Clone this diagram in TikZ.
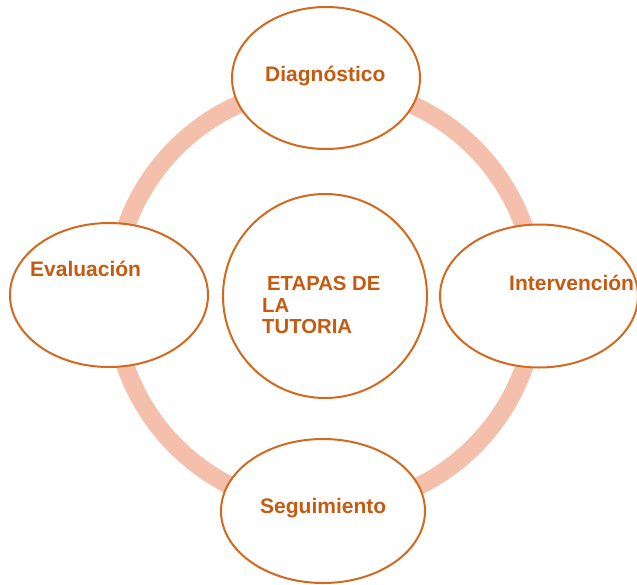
\documentclass[tikz,border=0pt]{standalone}
\usepackage{fontspec}
\setmainfont{Liberation Sans}
\usetikzlibrary{shapes.geometric}
\definecolor{ringcol}{HTML}{F4C0AC}
\definecolor{edgecol}{HTML}{D2691E}
\definecolor{txtcol}{HTML}{C55A11}
\begin{document}
\begin{tikzpicture}[x=1pt,y=-1pt,
  stage/.style={ellipse, draw=edgecol, line width=2pt, fill=white, inner sep=0pt},
  lbl/.style={text=txtcol, font=\fontsize{21}{24}\selectfont\bfseries, inner sep=0pt, anchor=base west},
  ctr/.style={text=txtcol, font=\fontsize{20.3}{21.3}\selectfont\bfseries, inner sep=0pt, anchor=base west, align=left}]
\useasboundingbox (0,0) rectangle (637,584);
\fill[white] (0,0) rectangle (637,584);
\draw[ringcol, line width=18pt] (325,297) circle[radius=211pt];
\node[stage, minimum width=188pt, minimum height=142pt] (diag) at (326,78) {};
\node[stage, minimum width=198pt, minimum height=144pt] (eval) at (109,295) {};
\node[stage, minimum width=198pt, minimum height=143pt] (inter) at (539,296) {};
\node[stage, minimum width=204pt, minimum height=144pt] (segu) at (323,511) {};
\node[circle, draw=edgecol, line width=2pt, fill=white, minimum size=204pt, inner sep=0pt] (core) at (325,296) {};
\node[lbl] (tdiag) at (265,81.7) {Diagnóstico};
\node[lbl] (teval) at (30,276.7) {Evaluación};
\node[lbl] (tinter) at (509,290.7) {Intervención};
\node[lbl] (tsegu) at (260,513) {Seguimiento};
\node[ctr] (tcore) at (262,333.5) {\hspace{5pt}ETAPAS DE\\LA\\TUTORIA};
\end{tikzpicture}
\end{document}
